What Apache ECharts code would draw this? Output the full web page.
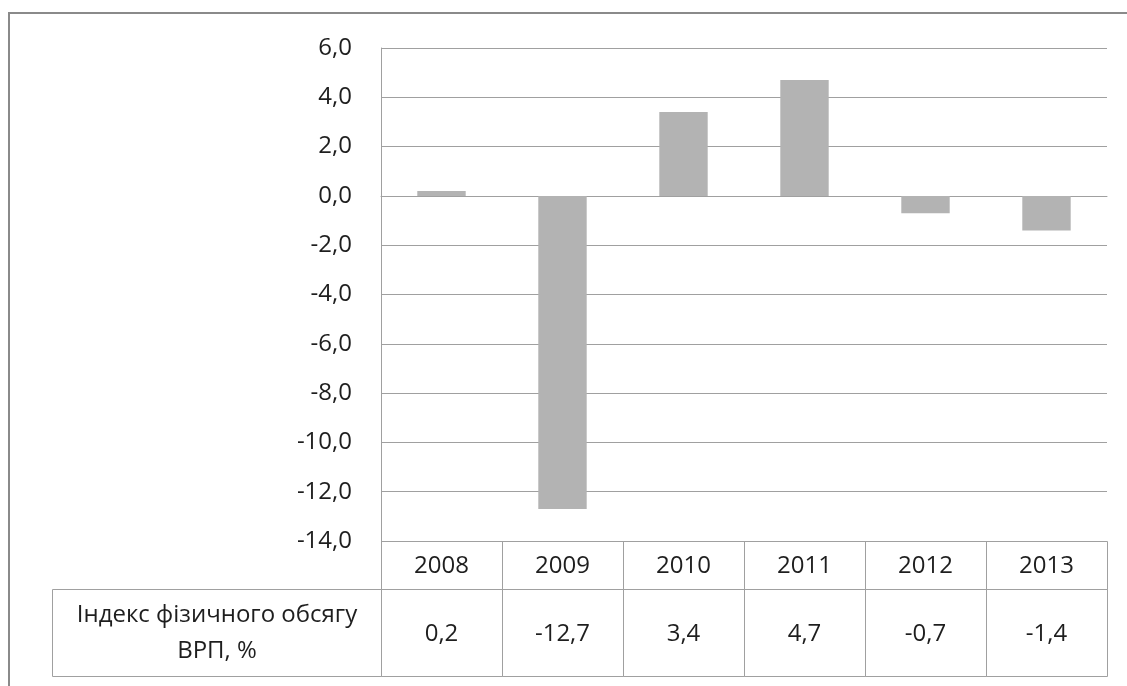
<!DOCTYPE html>
<html>
<head>
<meta charset="utf-8">
<style>
  html, body { margin: 0; padding: 0; background: #fff; }
  #chart { width: 1127px; height: 686px; }
</style>
<script src="https://cdn.jsdelivr.net/npm/echarts@6/dist/echarts.min.js"></script>
</head>
<body>
<div id="chart"></div>
<script>
// Ряд даних: індекс фізичного обсягу ВРП, %
const years = ['2008', '2009', '2010', '2011', '2012', '2013'];
const gdpIndex = [0.2, -12.7, 3.4, 4.7, -0.7, -1.4];
const seriesName = ['Індекс фізичного обсягу', 'ВРП, %'];
const yMin = -14, yMax = 6, yStep = 2;

const FONT = '"Open Sans", "DejaVu Sans", sans-serif';
const FONT_SIZE = 24;
const TEXT = '#1e1e1e';
const LINE = '#a0a0a0';
const fmt = v => v.toFixed(1).replace('.', ',');

// Розміри таблиці даних під графіком
const headRowH = 48;
const valueRowH = 87;
const labelColW = 329;

const chart = echarts.init(document.getElementById('chart'), null, { renderer: 'canvas' });

chart.setOption({
  animation: false,
  backgroundColor: '#fff',
  graphic: [{
    type: 'rect',
    shape: { x: 9, y: 13, width: 1300, height: 900 },
    style: { fill: 'none', stroke: '#8a8a8a', lineWidth: 2 },
    silent: true
  }],
  grid: { left: 381, right: 20, top: 48, bottom: 145, containLabel: false },
  xAxis: {
    type: 'category',
    data: years,
    axisLine: { show: true, onZero: true, lineStyle: { color: LINE, width: 1 } },
    axisTick: { show: false },
    axisLabel: { show: false },
    splitLine: { show: false }
  },
  yAxis: {
    type: 'value',
    min: yMin, max: yMax, interval: yStep,
    axisLine: { show: true, lineStyle: { color: LINE, width: 1 } },
    axisTick: { show: false },
    axisLabel: {
      color: TEXT, fontFamily: FONT, fontSize: FONT_SIZE, margin: 29,
      formatter: v => fmt(v)
    },
    splitLine: { show: true, lineStyle: { color: LINE, width: 1 } }
  },
  series: [
    {
      type: 'bar',
      data: gdpIndex,
      barWidth: '40%',
      itemStyle: { color: '#b3b3b3' },
      z: 2
    },
    {
      // Таблиця даних: комірки років і значень під кожною категорією
      type: 'custom',
      data: gdpIndex.map((v, i) => [i, v]),
      clip: false,
      silent: true,
      z: 3,
      renderItem: function (params, api) {
        const idx = api.value(0);
        const base = api.coord([idx, yMin]);
        const bw = api.size([1, 0])[0];
        const x0 = Math.round(base[0] - bw / 2) + 0.5;
        const w = Math.round(bw);
        const yTop = Math.round(base[1]) + 0.5;
        const yMid = yTop + headRowH;
        const cellStyle = { fill: 'none', stroke: LINE, lineWidth: 1 };
        const font = FONT_SIZE + 'px ' + FONT;
        const children = [
          { type: 'rect', shape: { x: x0, y: yTop, width: w, height: headRowH }, style: cellStyle },
          { type: 'rect', shape: { x: x0, y: yMid, width: w, height: valueRowH }, style: cellStyle },
          {
            type: 'text',
            style: {
              x: base[0], y: yTop + headRowH / 2 + 1, text: years[idx],
              align: 'center', verticalAlign: 'middle',
              fill: TEXT, font: font
            }
          },
          {
            type: 'text',
            style: {
              x: base[0], y: yMid + valueRowH / 2 + 1, text: fmt(api.value(1)),
              align: 'center', verticalAlign: 'middle',
              fill: TEXT, font: font
            }
          }
        ];
        if (idx === 0) {
          children.push(
            { type: 'rect', shape: { x: x0 - labelColW, y: yMid, width: labelColW, height: valueRowH }, style: cellStyle },
            {
              type: 'text',
              style: {
                x: x0 - labelColW / 2, y: yMid + valueRowH / 2, text: seriesName.join('\n'),
                align: 'center', verticalAlign: 'middle', lineHeight: 36,
                fill: TEXT, font: font
              }
            }
          );
        }
        return { type: 'group', children: children };
      }
    }
  ]
});
</script>
</body>
</html>
